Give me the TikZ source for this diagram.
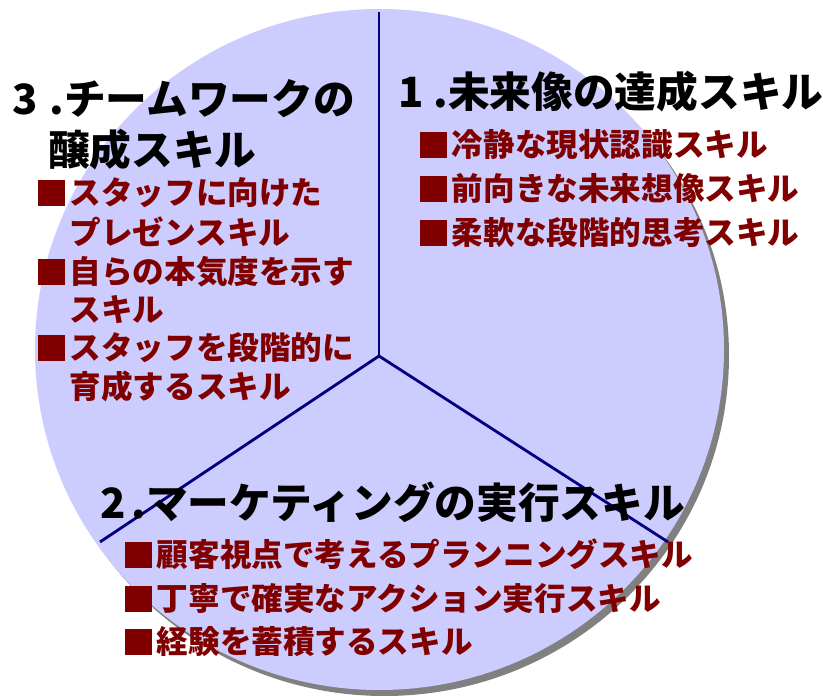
\documentclass[tikz,border=0pt]{standalone}
\usepackage{fontspec}
\setmainfont{Noto Sans CJK JP}
\definecolor{lav}{HTML}{CCCCFF}
\definecolor{navyline}{HTML}{000080}
\definecolor{itemred}{HTML}{800000}
\definecolor{shadowgray}{HTML}{808080}
\newcommand\bsq{\makebox[1em][l]{\rule[-0.02em]{0.86em}{0.8em}}}
\tikzset{
  title/.style={anchor=base west,inner sep=0pt,text=black,font=\fontsize{41.7}{50}\selectfont\bfseries},
  item/.style={anchor=base west,inner sep=0pt,text=itemred,font=\fontsize{31.6}{38}\selectfont\bfseries},
  divider/.style={draw=navyline,line width=2.8pt}
}
\begin{document}
\begin{tikzpicture}[x=1pt,y=-1pt]
\useasboundingbox (0,0) rectangle (823,700);
% shadow and disc
\fill[shadowgray] (384.5,355.5) ellipse [x radius=344.5, y radius=340.5];
\fill[lav] (379.5,349.5) ellipse [x radius=344.5, y radius=340.5];
% dividers
\coordinate (c) at (379,356);
\coordinate (top) at (379,12);
\coordinate (ll) at (100,542);
\coordinate (lr) at (668,542);
\draw[divider] (c) -- (top);
\draw[divider] (c) -- (ll);
\draw[divider] (c) -- (lr);
% section 3
\node[title] (t3a) at (12,115) {3\hspace{12pt}.チームワークの};
\node[title] (t3b) at (48,166) {醸成スキル};
\node[item] (l1) at (38,205) {\bsq スタッフに向けた};
\node[item] (l2) at (69.6,245) {プレゼンスキル};
\node[item] (l3) at (38,284) {\bsq 自らの本気度を示す};
\node[item] (l4) at (69.6,322) {スキル};
\node[item] (l5) at (38,360) {\bsq スタッフを段階的に};
\node[item] (l6) at (69.6,399) {育成するスキル};
% section 1
\node[title] (t1) at (398,108) {1\hspace{10pt}.未来像の達成スキル};
\node[item] (r1) at (420,157) {\bsq 冷静な現状認識スキル};
\node[item] (r2) at (420,201) {\bsq 前向きな未来想像スキル};
\node[item] (r3) at (420,245) {\bsq 柔軟な段階的思考スキル};
% section 2
\node[title] (t2) at (100,519) {2\hspace{6pt}.マーケティングの実行スキル};
\node[item] (b1) at (125,567) {\bsq 顧客視点で考えるプランニングスキル};
\node[item] (b2) at (125,611) {\bsq 丁寧で確実なアクション実行スキル};
\node[item] (b3) at (125,654) {\bsq 経験を蓄積するスキル};
\end{tikzpicture}
\end{document}
